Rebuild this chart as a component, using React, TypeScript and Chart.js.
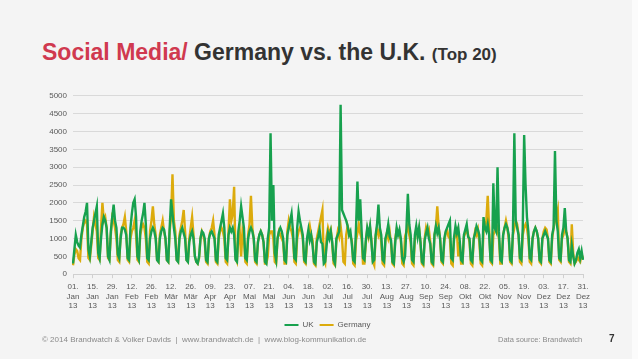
import React, { useEffect, useRef } from "react";
import { Chart, registerables } from "chart.js";
Chart.register(...registerables);

const tickLabels = [
  "01. Jan 13", "15. Jan 13", "29. Jan 13", "12. Feb 13", "26. Feb 13", "12. Mär 13", "26. Mär 13",
  "09. Apr 13", "23. Apr 13", "07. Mai 13", "21. Mai 13", "04. Jun 13", "18. Jun 13", "02. Jul 13",
  "16. Jul 13", "30. Jul 13", "13. Aug 13", "27. Aug 13", "10. Sep 13", "24. Sep 13", "08. Okt 13",
  "22. Okt 13", "05. Nov 13", "19. Nov 13", "03. Dez 13", "17. Dez 13", "31. Dez 13",
];
const tickEvery = 14;

// daily values, 01 Jan 2013 .. 31 Dec 2013 (one row per week, Mon..Sun)
const ukValues = [
  300, 700, 1100, 900, 800, 750,
  1100, 1350, 1600, 1750, 2000, 700, 500,
  900, 1300, 1500, 1700, 1900, 600, 450,
  1000, 1400, 1600, 1500, 1300, 500, 400,
  1200, 1600, 1950, 1500, 1300, 550, 450,
  1000, 1300, 1300, 1250, 1100, 450, 400,
  1300, 1700, 2000, 2100, 1600, 500, 400,
  1200, 1500, 1700, 2000, 1400, 450, 400,
  1000, 1200, 1300, 1200, 1000, 400, 350,
  1000, 1200, 1300, 1250, 1000, 400, 350,
  1300, 2100, 1700, 1300, 1000, 400, 350,
  1000, 1200, 1300, 1150, 1000, 400, 350,
  900, 1100, 1200, 1000, 500, 350, 300,
  500, 1000, 1200, 1150, 1000, 400, 350,
  1000, 1150, 1200, 1100, 1000, 400, 350,
  1100, 1300, 1500, 1700, 1300, 450, 400,
  1100, 1300, 1200, 1300, 1100, 400, 350,
  1200, 1500, 1900, 1600, 1300, 450, 400,
  1000, 1200, 1300, 1200, 1000, 400, 350,
  900, 1100, 1200, 1100, 900, 350, 300,
  1000, 1300, 3950, 1500, 2500, 600, 400,
  1000, 1200, 1300, 1200, 1000, 400, 350,
  1100, 1300, 1500, 1700, 1200, 450, 400,
  1300, 1750, 1500, 1300, 1100, 400, 350,
  1000, 1250, 950, 1100, 800, 350, 300,
  900, 1050, 1250, 900, 850, 300, 350,
  800, 1150, 1000, 1200, 900, 400, 300,
  1000, 1100, 1200, 4750, 1800, 1700, 1600,
  1500, 1350, 1100, 1200, 850, 400, 350,
  1300, 2600, 1500, 2100, 1200, 450, 400,
  950, 1300, 1100, 1350, 900, 350, 400,
  1100, 1400, 1950, 1300, 1100, 400, 350,
  1000, 1150, 1400, 1050, 950, 350, 300,
  900, 1300, 1100, 1250, 1000, 450, 350,
  500, 1300, 2250, 1400, 1100, 400, 350,
  1100, 1350, 1050, 1300, 900, 350, 300,
  950, 1150, 1300, 1000, 850, 350, 300,
  1100, 1350, 1150, 1300, 1000, 400, 350,
  1000, 1200, 1300, 1400, 1500, 450, 400,
  1050, 1350, 1150, 1300, 950, 400, 350,
  1100, 1250, 1400, 1050, 1000, 400, 350,
  1000, 1150, 1350, 1250, 1100, 400, 350,
  1600, 1300, 1200, 1400, 1100, 400, 350,
  2550, 1300, 1200, 3000, 1200, 400, 350,
  1100, 1300, 1400, 1300, 1100, 400, 350,
  1200, 3950, 1500, 1300, 1100, 450, 400,
  1300, 3900, 2500, 1600, 1200, 450, 400,
  1000, 1200, 1300, 1200, 1000, 400, 350,
  1000, 1100, 1200, 1100, 1000, 400, 350,
  1100, 1300, 3450, 1500, 1200, 450, 400,
  1100, 1300, 1850, 1200, 1000, 400, 350,
  800, 500, 300, 400, 600, 700, 450,
  650, 400,
];

const germanyValues = [
  250, 550, 700, 650, 450, 400,
  1000, 1300, 1450, 1500, 1400, 450, 400,
  800, 1200, 1600, 1400, 1200, 450, 400,
  1300, 2000, 1500, 1600, 1300, 450, 400,
  1100, 1600, 1500, 1300, 1000, 400, 350,
  1100, 1300, 1400, 1600, 1200, 400, 350,
  1000, 1200, 1300, 1500, 1100, 400, 350,
  1100, 1300, 1400, 1300, 1000, 350, 300,
  1200, 1500, 1900, 1400, 1100, 400, 350,
  1100, 1300, 1500, 1200, 1000, 400, 350,
  1200, 1600, 2800, 1500, 1200, 400, 350,
  1100, 1300, 1500, 1800, 1200, 400, 350,
  1000, 1300, 1600, 1100, 500, 350, 300,
  450, 1000, 1200, 1100, 900, 350, 300,
  1000, 1200, 1300, 1500, 1100, 350, 300,
  1000, 1200, 1300, 1200, 1000, 350, 300,
  1200, 2100, 1500, 1700, 2450, 450, 350,
  1000, 1200, 500, 1200, 1000, 350, 300,
  1100, 1400, 2200, 1300, 1000, 350, 300,
  900, 1100, 1200, 1100, 900, 300, 300,
  500, 1100, 1200, 1200, 1000, 350, 300,
  1000, 1200, 1100, 1000, 900, 300, 300,
  1200, 1500, 1300, 1200, 1000, 350, 300,
  1000, 1200, 1300, 1200, 1000, 350, 300,
  900, 1150, 1350, 1100, 950, 300, 250,
  1000, 1200, 1400, 1600, 1800, 400, 300,
  1050, 1300, 1150, 1250, 850, 300, 250,
  950, 1200, 1050, 1350, 1000, 350, 300,
  1100, 1350, 1200, 1050, 950, 300, 250,
  950, 1150, 1400, 1150, 1000, 300, 300,
  900, 1250, 1050, 1300, 950, 350, 250,
  1050, 1300, 1100, 1250, 900, 300, 250,
  950, 1150, 1000, 1200, 850, 300, 250,
  1000, 1250, 1100, 1150, 950, 300, 250,
  1050, 1200, 1350, 1100, 900, 300, 250,
  950, 1250, 1150, 1300, 900, 300, 250,
  1000, 1300, 1150, 1250, 900, 300, 250,
  1100, 1300, 1900, 1300, 1000, 350, 300,
  900, 1150, 1250, 1050, 1000, 300, 250,
  1000, 1100, 1200, 500, 900, 300, 300,
  1050, 1150, 1300, 1100, 900, 300, 250,
  950, 1200, 1100, 1250, 900, 300, 250,
  1200, 1300, 1500, 2200, 1300, 350, 300,
  1100, 1200, 1400, 1300, 1000, 300, 300,
  1100, 1300, 1500, 1300, 1000, 350, 300,
  1100, 1300, 1500, 1400, 1100, 350, 300,
  1100, 1300, 1400, 1300, 1000, 350, 300,
  1000, 1200, 1300, 1200, 1000, 350, 300,
  1000, 1200, 1300, 1250, 1000, 350, 300,
  1000, 1300, 1500, 1600, 1800, 400, 350,
  1000, 1100, 1300, 1200, 1000, 350, 300,
  1400, 600, 300, 350, 500, 400, 350,
  550, 450,
];

const dayCategories = ukValues.map((_, i) => `Tag ${i + 1}`);

const FONT = "'Liberation Sans', Arial, Helvetica, sans-serif";
const UK_COLOR = "#17a14e";
const DE_COLOR = "#dcab0c";

function ChartBox() {
  const ref = useRef<HTMLCanvasElement | null>(null);
  useEffect(() => {
    if (!ref.current) return;
    const chart = new Chart(ref.current, {
      type: "line",
      data: {
        labels: dayCategories,
        datasets: [
          {
            label: "UK",
            data: ukValues,
            borderColor: UK_COLOR,
            backgroundColor: UK_COLOR,
            borderWidth: 2.4,
            pointRadius: 0,
            tension: 0,
            fill: false,
          },
          {
            label: "Germany",
            data: germanyValues,
            borderColor: DE_COLOR,
            backgroundColor: DE_COLOR,
            borderWidth: 2.4,
            pointRadius: 0,
            tension: 0,
            fill: false,
          },
        ],
      },
      options: {
        animation: false,
        responsive: false,
        maintainAspectRatio: false,
        layout: { padding: { top: 3, right: 0, left: 0, bottom: 0 } },
        plugins: {
          tooltip: { enabled: false },
          legend: {
            position: "bottom",
            labels: {
              boxWidth: 14,
              boxHeight: 2,
              padding: 6,
              color: "#595959",
              font: { family: FONT, size: 8 },
              generateLabels: (c: any) =>
                Chart.defaults.plugins.legend.labels
                  .generateLabels(c)
                  .map((l: any) => ({ ...l, lineWidth: 0, fillStyle: l.strokeStyle })),
            },
          },
        },
        scales: {
          x: {
            type: "category",
            offset: false,
            border: { display: true, color: "#d0d0d0" },
            grid: {
              drawOnChartArea: false,
              drawTicks: true,
              tickLength: 4,
              color: (ctx: any) => (ctx.index % tickEvery === 0 ? "#d0d0d0" : "rgba(0,0,0,0)"),
            },
            ticks: {
              autoSkip: false,
              maxRotation: 0,
              minRotation: 0,
              padding: 4,
              color: "#595959",
              font: { family: FONT, size: 8, lineHeight: 1.2 },
              callback: (_v: any, idx: number) =>
                idx % tickEvery === 0 ? tickLabels[idx / tickEvery].split(" ") : "",
            },
          },
          y: {
            min: 0,
            max: 5000,
            afterFit: (s: any) => {
              s.width = 43;
            },
            border: { display: false },
            grid: { color: "#d9d9d9", drawTicks: false, lineWidth: 1 },
            ticks: {
              stepSize: 500,
              padding: 6,
              color: "#595959",
              font: { family: FONT, size: 8 },
              callback: (v: any) => String(v),
            },
          },
          yRight: {
            position: "right",
            display: true,
            min: 0,
            max: 5000,
            afterFit: (s: any) => {
              s.width = 42;
            },
            border: { display: false },
            grid: { display: false, drawTicks: false },
            ticks: { display: false },
          },
        },
      },
    });
    return () => chart.destroy();
  }, []);
  return <canvas ref={ref} width={595} height={254} style={{ display: "block", width: 595, height: 254 }} />;
}

export default function App() {
  return (
    <div
      style={{
        position: "fixed",
        left: 0,
        top: 0,
        width: 638,
        height: 359,
        background: "#f4f4f4",
        overflow: "hidden",
        fontFamily: FONT,
      }}
    >
      <div style={{ position: "absolute", right: 0, top: 0, width: 6, height: 359, background: "#fbfbfb" }} />
      <div
        style={{
          position: "absolute",
          left: 42,
          top: 37,
          whiteSpace: "nowrap",
          fontWeight: "bold",
          fontSize: 23,
          lineHeight: "30px",
          color: "#333333",
        }}
      >
        <span style={{ color: "#d0394f" }}>Social Media/</span> Germany vs. the U.K.{" "}
        <span style={{ fontSize: 17 }}>(Top 20)</span>
      </div>
      <div style={{ position: "absolute", left: 30, top: 85 }}>
        <ChartBox />
      </div>
      <div
        style={{
          position: "absolute",
          left: 42,
          top: 335,
          fontSize: 8,
          color: "#8a8a8a",
          whiteSpace: "nowrap",
        }}
      >
        © 2014 Brandwatch &amp; Volker Davids&nbsp; |&nbsp; www.brandwatch.de&nbsp; |&nbsp; www.blog-kommunikation.de
      </div>
      <div
        style={{
          position: "absolute",
          left: 498,
          top: 335,
          fontSize: 7.5,
          color: "#8a8a8a",
          whiteSpace: "nowrap",
        }}
      >
        Data source: Brandwatch
      </div>
      <div
        style={{
          position: "absolute",
          left: 609,
          top: 333,
          fontSize: 10,
          fontWeight: "bold",
          color: "#333333",
        }}
      >
        7
      </div>
    </div>
  );
}
